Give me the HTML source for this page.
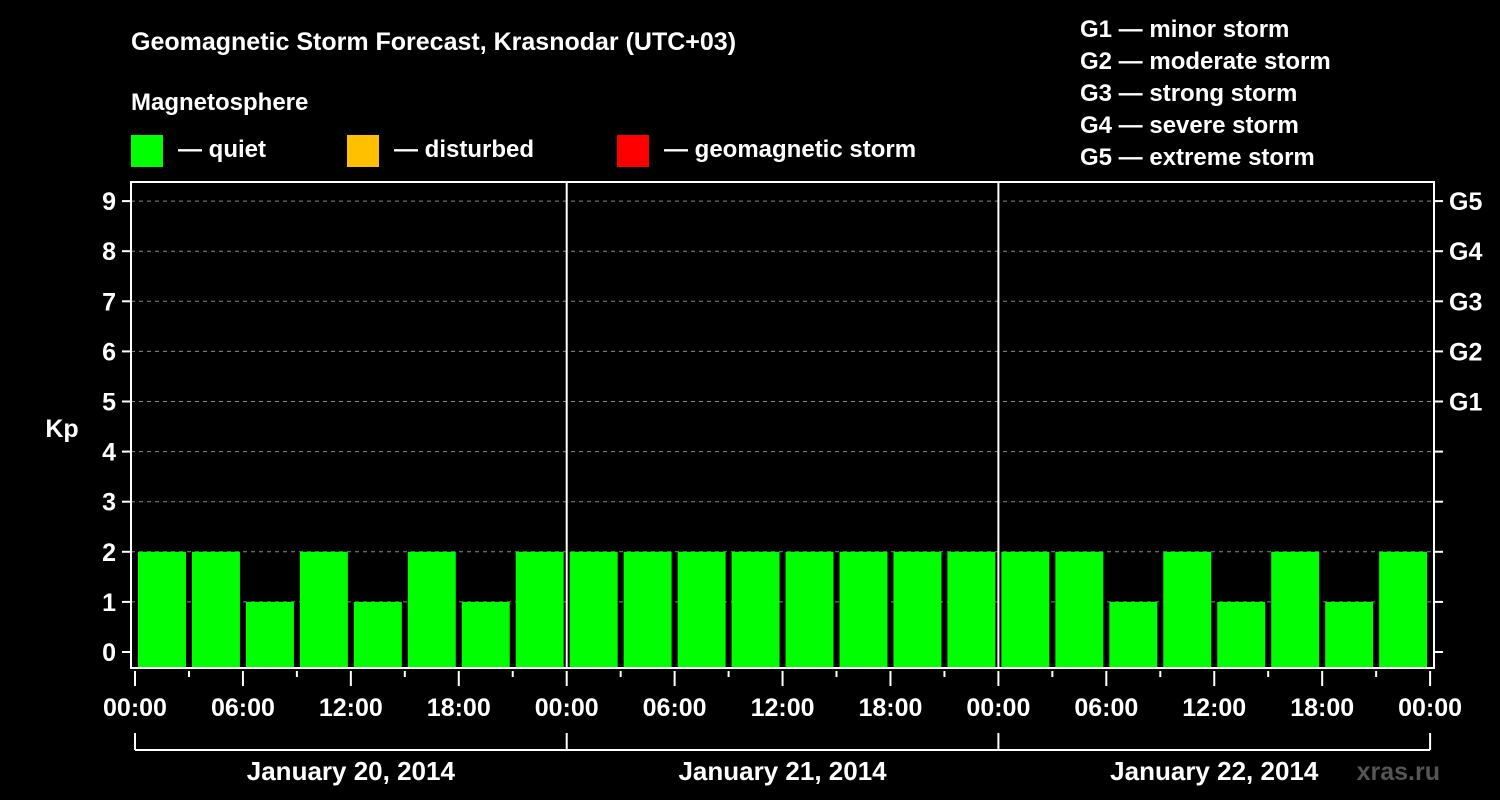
<!DOCTYPE html>
<html><head><meta charset="utf-8"><style>
body{margin:0;background:#000;}
svg{display:block;font-family:"Liberation Sans",Arial,sans-serif;font-weight:bold;}
</style></head><body>
<svg id="c" width="1500" height="800" viewBox="0 0 1500 800">
<rect width="1500" height="800" fill="#000"/>
<text x="131" y="50" fill="#fff" font-size="25">Geomagnetic Storm Forecast, Krasnodar (UTC+03)</text>
<text x="131" y="110" fill="#fff" font-size="24">Magnetosphere</text>
<g><rect x="131" y="135" width="32" height="32" fill="#00ff00"/><text x="178" y="157" fill="#fff" font-size="24">— quiet</text></g>
<g><rect x="347" y="135" width="32" height="32" fill="#ffc000"/><text x="394" y="157" fill="#fff" font-size="24">— disturbed</text></g>
<g><rect x="617" y="135" width="32" height="32" fill="#ff0000"/><text x="664" y="157" fill="#fff" font-size="24">— geomagnetic storm</text></g>
<g fill="#fff" font-size="24">
<text x="1080" y="37">G1 — minor storm</text>
<text x="1080" y="69">G2 — moderate storm</text>
<text x="1080" y="101">G3 — strong storm</text>
<text x="1080" y="133">G4 — severe storm</text>
<text x="1080" y="165">G5 — extreme storm</text>
</g>
<text x="62" y="437" fill="#fff" font-size="25" text-anchor="middle">Kp</text>
<text x="1440" y="780" fill="#555" font-size="25" text-anchor="end">xras.ru</text>
<g id="g"></g>
</svg>
<script>
const kpValues=[2,2,1,2,1,2,1,2, 2,2,2,2,2,2,2,2, 2,2,1,2,1,2,1,2];
const dayLabels=["January 20, 2014","January 21, 2014","January 22, 2014"];
const hourLabels=["00:00","06:00","12:00","18:00"];
const gLabels=["G1","G2","G3","G4","G5"];
const NS="http://www.w3.org/2000/svg";
const g=document.getElementById('g');
function mk(t,a,txt){const e=document.createElementNS(NS,t);for(const k in a)e.setAttribute(k,a[k]);if(txt!==undefined)e.textContent=txt;g.appendChild(e);return e;}
const X0=135,DAY=431.7,L=131,R=1434,T=182,B=668;
const x=h=>X0+h/24*DAY;
const y=k=>652-k*50.1;
for(let k=0;k<=9;k++){
 if(k>=1){const l=mk('line',{x1:L,x2:R,y1:y(k),y2:y(k),stroke:'#888','stroke-dasharray':'4,4','stroke-width':1});}
 const t=mk('line',{x1:122,x2:L,y1:y(k),y2:y(k),stroke:'#fff','stroke-width':2});
 const t2=mk('line',{x1:R,x2:1443,y1:y(k),y2:y(k),stroke:'#fff','stroke-width':2});
 const lb=mk('text',{x:116,y:y(k)+9,fill:'#fff','font-size':25,'text-anchor':'end'},String(k));
}
gLabels.forEach((s,i)=>{const t=mk('text',{x:1449,y:y(5+i)+9,fill:'#fff','font-size':25},s);});
kpValues.forEach((v,i)=>{
 const b=mk('rect',{x:x(i*3)+3,width:DAY/8-6,y:y(v),height:B-y(v),fill:'#00ff00'});
 
 
});
for(let d=1;d<3;d++){const l=mk('line',{x1:x(d*24),x2:x(d*24),y1:T,y2:B,stroke:'#fff','stroke-width':2});}
const f=mk('rect',{x:L,y:T,width:R-L,height:B-T,fill:'none',stroke:'#fff','stroke-width':2});

for(let h=0;h<=72;h+=3){
 const major=h%6===0;
 const t=mk('line',{x1:x(h),x2:x(h),y1:671,y2:major?686:677,stroke:'#fff','stroke-width':2});
 
 if(major){const lb=mk('text',{x:x(h),y:716,fill:'#fff','font-size':25,'text-anchor':'middle'},hourLabels[(h/6)%4]);}
}
const br=mk('line',{x1:x(0),x2:x(72),y1:750,y2:750,stroke:'#fff','stroke-width':2});
for(let d=0;d<=3;d++){const l=mk('line',{x1:x(d*24),x2:x(d*24),y1:733,y2:750,stroke:'#fff','stroke-width':2});}
dayLabels.forEach((s,i)=>{const t=mk('text',{x:x(i*24+12),y:780,fill:'#fff','font-size':26,'text-anchor':'middle'},s);});
</script>
</body></html>
